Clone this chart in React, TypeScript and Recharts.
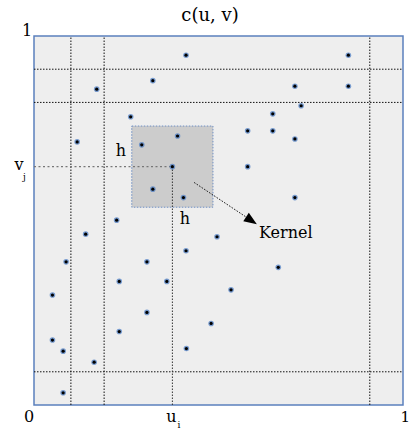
import { ScatterChart, Scatter, XAxis, YAxis, ReferenceArea, ReferenceLine } from "recharts"

// sample points (u, v)
const uVals = [
  0.412, 0.852, 0.322, 0.17, 0.707, 0.852, 0.724, 0.262, 0.647, 0.579, 0.647, 0.389, 0.707,
  0.117, 0.292, 0.375, 0.579, 0.322, 0.405, 0.707, 0.224, 0.14, 0.496, 0.412, 0.087, 0.306,
  0.662, 0.231, 0.36, 0.534, 0.05, 0.306, 0.48, 0.231, 0.05, 0.079, 0.413, 0.163, 0.079,
]
const vVals = [
  0.948, 0.948, 0.879, 0.856, 0.864, 0.864, 0.811, 0.781, 0.789, 0.743, 0.743, 0.729, 0.721,
  0.713, 0.705, 0.646, 0.646, 0.585, 0.562, 0.562, 0.501, 0.463, 0.456, 0.418, 0.388, 0.388,
  0.373, 0.335, 0.335, 0.312, 0.298, 0.251, 0.221, 0.199, 0.176, 0.146, 0.153, 0.116, 0.033,
]

const gridU = [0.1, 0.19, 0.91]
const gridV = [0.09, 0.82, 0.91]

const uI = 0.375
const vJ = 0.646
const kernelH = 0.22

const xTicks = [0, uI, 1]
const xTickLabels = ["0", "u", "1"]
const xTickSubs = ["", "i", ""]
const yTicks = [vJ, 1]
const yTickLabels = ["v", "1"]
const yTickSubs = ["j", ""]

const arrowFrom = { u: 0.434, v: 0.603 }
const arrowTo = { u: 0.604, v: 0.49 }

const points = uVals.map((u, i) => ({ u, v: vVals[i] }))

const FONT = "'DejaVu Serif', serif"

const Dot = (props: any) => {
  const { cx, cy } = props
  return (
    <g>
      <circle cx={cx} cy={cy} r={2.8} fill="#4f7fc4" opacity={0.75} />
      <circle cx={cx} cy={cy} r={1.6} fill="#000" />
    </g>
  )
}

const XTick = (props: any) => {
  const { x, y, payload } = props
  const i = xTicks.indexOf(payload.value)
  return (
    <g>
      {i === 2 ? (
        <text x={410} y={y + 17} textAnchor="end" fontFamily={FONT} fontSize={15} fill="#000">
          {xTickLabels[i]}
        </text>
      ) : (
        <text x={x + (i === 0 ? -5 : -1)} y={y + 17} textAnchor="middle" fontFamily={FONT} fontSize={16} fill="#000">
          {xTickLabels[i]}
        </text>
      )}
      {xTickSubs[i] && (
        <text x={x + 5} y={y + 23} fontFamily={FONT} fontSize={9} fill="#000">
          {xTickSubs[i]}
        </text>
      )}
    </g>
  )
}

const YTick = (props: any) => {
  const { x, y, payload } = props
  const i = yTicks.indexOf(payload.value)
  return (
    <g>
      <text x={i === 1 ? x - 7 : x - 15} y={y + (i === 1 ? 0 : 3)} textAnchor="middle" fontFamily={FONT} fontSize={16} fill="#000">
        {yTickLabels[i]}
      </text>
      {yTickSubs[i] && (
        <text x={x - 11} y={y + 13} fontFamily={FONT} fontSize={9} fill="#000">
          {yTickSubs[i]}
        </text>
      )}
    </g>
  )
}

const Arrow = (props: any) => {
  const { x1, y1, x2, y2 } = props
  const ang = Math.atan2(y2 - y1, x2 - x1)
  const len = 13
  const w = 5
  const bx = x2 - len * Math.cos(ang)
  const by = y2 - len * Math.sin(ang)
  const px = -Math.sin(ang) * w
  const py = Math.cos(ang) * w
  return (
    <g>
      <line x1={x1} y1={y1} x2={bx} y2={by} stroke="#111" strokeWidth={1} strokeDasharray="1.5 1.5" />
      <polygon points={`${x2},${y2} ${bx + px},${by + py} ${bx - px},${by - py}`} fill="#000" />
    </g>
  )
}

export default function App() {
  return (
    <div style={{ position: "absolute", left: 0, top: 0, width: 411, height: 430, background: "#fff" }}>
      <ScatterChart width={411} height={430} margin={{ top: 36, right: 8, bottom: 0, left: 0 }}>
        <XAxis
          type="number"
          dataKey="u"
          domain={[0, 1]}
          ticks={xTicks}
          tick={<XTick />}
          axisLine={false}
          tickLine={false}
          tickSize={0}
          tickMargin={0}
          height={25}
        />
        <YAxis
          type="number"
          dataKey="v"
          domain={[0, 1]}
          ticks={yTicks}
          tick={<YTick />}
          axisLine={false}
          tickLine={false}
          tickSize={0}
          tickMargin={0}
          width={34}
        />
        <ReferenceArea x1={0} x2={1} y1={0} y2={1} fill="#eeeeee" fillOpacity={1} stroke="#5b80bd" strokeWidth={1.5} />
        <ReferenceArea
          x1={uI - kernelH / 2}
          x2={uI + kernelH / 2}
          y1={vJ - kernelH / 2}
          y2={vJ + kernelH / 2}
          fill="#cccccc"
          fillOpacity={1}
          stroke="#6f8fc4"
          strokeDasharray="1.5 1.5"
        />
        {gridU.map((u) => (
          <ReferenceLine key={"u" + u} x={u} stroke="#111" strokeDasharray="1.5 1.5" />
        ))}
        {gridV.map((v) => (
          <ReferenceLine key={"v" + v} y={v} stroke="#111" strokeDasharray="1.5 1.5" />
        ))}
        <ReferenceLine
          segment={[{ x: 0, y: vJ }, { x: uI, y: vJ }]}
          stroke="#777"
          strokeWidth={1.2}
          strokeDasharray="2 2.5"
        />
        <ReferenceLine
          segment={[{ x: uI, y: 0 }, { x: uI, y: vJ }]}
          stroke="#333"
          strokeDasharray="1.5 1.5"
        />
        <ReferenceLine
          segment={[{ x: arrowFrom.u, y: arrowFrom.v }, { x: arrowTo.u, y: arrowTo.v }]}
          shape={<Arrow />}
        />
        <Scatter data={points} shape={<Dot />} isAnimationActive={false} />
      </ScatterChart>
      <svg width={411} height={430} style={{ position: "absolute", left: 0, top: 0, pointerEvents: "none" }}>
        <text x={210} y={21} textAnchor="middle" fontFamily={FONT} fontSize={18} fill="#000">
          c(u, v)
        </text>
        <text x={121} y={156} textAnchor="middle" fontFamily={FONT} fontSize={16} fill="#000">
          h
        </text>
        <text x={185} y={224} textAnchor="middle" fontFamily={FONT} fontSize={16} fill="#000">
          h
        </text>
        <text x={259} y={238} fontFamily={FONT} fontSize={16} fill="#000">
          Kernel
        </text>
      </svg>
    </div>
  )
}
